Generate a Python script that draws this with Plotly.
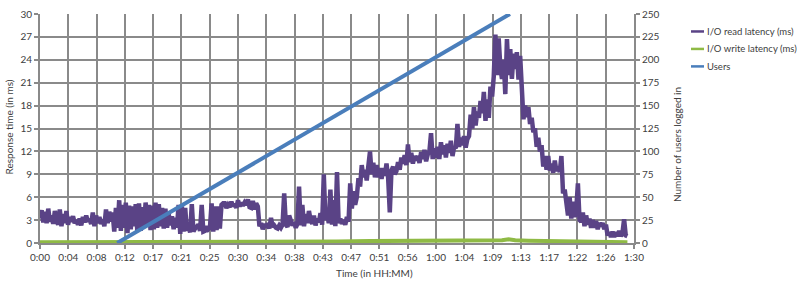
import plotly.graph_objects as go

# ---------------- data ----------------
tick_labels = ["0:00", "0:04", "0:08", "0:12", "0:17", "0:21", "0:25", "0:30", "0:34", "0:38", "0:43",
               "0:47", "0:51", "0:56", "1:00", "1:04", "1:09", "1:13", "1:17", "1:22", "1:26", "1:30"]
tick_minutes = [i * 90 / 21 for i in range(len(tick_labels))]

# I/O read latency (ms), sampled every 15 s from 0:00 to 1:29
read_latency = [
    3.2, 4.3, 2.7, 4.1,   2.6, 4.5, 2.8, 3.6,   2.5, 4.2, 3.0, 2.4,   4.4, 2.2, 3.8, 2.6,
    4.2, 2.4, 3.4, 2.8,   3.5, 2.6, 3.0, 2.4,   3.2, 2.3, 3.4, 2.7,   3.6, 2.8, 3.1, 2.5,
    4.0, 2.2, 3.6, 2.6,   3.4, 2.5, 3.1, 2.2,   4.4, 2.6, 4.1, 2.8,   4.0, 1.5, 4.6, 2.0,
    5.6, 1.6, 5.0, 2.0,   5.3, 1.3, 4.9, 1.8,   4.8, 2.2, 5.1, 1.5,   5.2, 1.6, 4.7, 2.2,
    5.3, 2.4, 5.0, 1.7,   4.9, 1.8, 5.3, 2.0,   5.1, 2.2, 4.6, 1.9,   4.5, 2.0, 3.8, 2.3,
    3.5, 1.8, 3.3, 2.0,   5.0, 1.2, 4.8, 1.5,   4.6, 1.6, 2.2, 1.4,   5.1, 1.5, 1.9, 2.3,
    2.4, 1.6, 5.0, 1.5,   1.6, 2.2, 1.8, 2.0,   5.2, 1.5, 4.8, 1.7,   4.8, 1.9, 5.0, 5.2,
    5.2, 4.6, 5.0, 4.7,   5.4, 4.8, 5.1, 4.6,   5.6, 4.8, 5.3, 4.9,   5.3, 5.0, 5.7, 4.7,
    4.6, 5.5, 4.4, 5.2,   4.8, 2.2, 2.6, 1.8,   2.5, 2.0, 2.6, 1.9,   3.3, 2.1, 2.3, 2.0,
    1.9, 2.3, 2.0, 2.4,   6.5, 2.4, 2.1, 3.6,   2.8, 2.3, 2.7, 2.0,   2.5, 7.4, 2.3, 5.0,
    2.2, 3.8, 2.6, 4.2,   3.0, 2.5, 3.6, 2.3,   3.2, 2.7, 3.9, 2.4,   9.0, 3.0, 4.0, 2.6,
    7.0, 2.4, 5.6, 2.2,   9.3, 2.6, 3.2, 2.5,   3.0, 2.4, 3.4, 2.8,   7.8, 4.5, 6.8, 5.0,
    6.0, 8.5, 7.4, 10.2,  8.6, 9.6, 8.2, 10.0,  12.0, 9.0, 10.5, 8.6, 10.2, 8.6, 9.8, 8.4,
    9.8, 8.8, 10.4, 8.5,  4.0, 9.5, 10.0, 9.0,  9.4, 10.6, 9.6, 11.2, 10.4, 11.5, 10.2, 12.9,
    10.6, 11.8, 10.4, 11.4, 10.8, 11.4, 10.5, 11.9, 11.0, 12.2, 10.7, 11.6, 12.0, 14.4, 11.0, 12.4,
    11.2, 12.6, 11.0, 13.2, 11.6, 12.8, 11.2, 13.0, 11.8, 13.4, 11.4, 12.6, 12.4, 15.6, 12.6, 13.8,
    12.8, 14.0, 12.5, 13.6, 14.0, 16.8, 15.0, 17.8, 15.4, 17.2, 16.4, 18.6, 17.0, 19.8, 16.0, 18.8,
    16.4, 20.5, 19.2, 21.8, 27.3, 22.0, 26.8, 23.0, 21.5, 24.0, 19.5, 26.7, 22.0, 25.4, 21.5, 24.8,
    22.8, 25.0, 21.4, 24.5, 18.5, 16.2, 18.0, 16.5, 17.8, 15.6, 16.4, 14.5, 15.0, 12.6, 13.8, 12.0,
    12.8, 10.0, 11.4, 9.6, 11.4, 9.5, 10.4, 9.2,  10.8, 9.4, 10.0, 9.3,  11.4, 6.5, 7.0, 5.0,
    3.6, 6.0, 3.2, 5.4,   3.4, 4.4, 7.8, 3.0,   2.8, 4.0, 2.2, 3.6,   2.4, 3.2, 2.0, 3.0,
    2.0, 2.9, 1.8, 2.6,   2.2, 2.6, 1.8, 2.4,   1.0, 1.4, 0.8, 1.5,   0.8, 1.4, 0.9, 1.6,
    0.9, 1.3, 3.1, 1.0,   0.9,
]
read_minutes = [i * 0.25 for i in range(len(read_latency))]

write_minutes = [0, 10, 20, 30, 40, 45, 50, 55, 60, 64, 68, 70, 71, 72, 74, 78, 82, 86, 89]
write_latency = [0.1, 0.1, 0.1, 0.12, 0.15, 0.2, 0.25, 0.25, 0.3, 0.3, 0.35, 0.35, 0.5, 0.35, 0.3, 0.25, 0.2, 0.12, 0.1]

users_minutes = [11.7, 71.2]
users_count = [0, 250]

# ---------------- style ----------------
FONT = "Lato"
GRID = "#8a8a8a"
TXT = "#404040"
C_READ = "#5a4386"
C_WRITE = "#8fba45"
C_USERS = "#4a7ebb"

fig = go.Figure()
fig.add_trace(go.Scatter(x=write_minutes, y=write_latency, mode="lines", name="I/O write latency (ms)",
                         line=dict(color=C_WRITE, width=4)))
fig.add_trace(go.Scatter(x=read_minutes, y=read_latency, mode="lines", name="I/O read latency (ms)",
                         line=dict(color=C_READ, width=4.5)))
fig.add_trace(go.Scatter(x=users_minutes, y=users_count, mode="lines", name="Users", yaxis="y2",
                         line=dict(color=C_USERS, width=4)))

axis_common = dict(zeroline=False, showline=True, linecolor=GRID, linewidth=2,
                   ticks="outside", ticklen=4, tickcolor=GRID, tickwidth=2,
                   tickfont=dict(family=FONT, size=10, color=TXT))

fig.update_layout(
    width=800, height=284,
    margin=dict(l=40, r=166, t=7, b=41),
    paper_bgcolor="white", plot_bgcolor="white",
    showlegend=False,
    font=dict(family=FONT, size=10, color=TXT),
    xaxis=dict(range=[0, 90], tickmode="array", tickvals=tick_minutes, ticktext=tick_labels,
               showgrid=True, gridcolor=GRID, gridwidth=2, **axis_common),
    yaxis=dict(range=[0, 30], tickmode="array", tickvals=list(range(0, 31, 3)),
               showgrid=True, gridcolor=GRID, gridwidth=2, **axis_common),
    yaxis2=dict(range=[0, 250], tickmode="array", tickvals=list(range(0, 251, 25)),
                overlaying="y", side="right", showgrid=False, **axis_common),
)

# axis titles
fig.add_annotation(text="Time (in HH:MM)", xref="paper", yref="paper", x=(374 - 40) / 594, y=-(274 - 243) / 236,
                   showarrow=False, font=dict(family=FONT, size=10, color=TXT), xanchor="center", yanchor="middle")
fig.add_annotation(text="Response time (in ms)", xref="paper", yref="paper", x=(9 - 40) / 594, y=(243 - 124) / 236,
                   showarrow=False, textangle=-90, font=dict(family=FONT, size=10, color=TXT),
                   xanchor="center", yanchor="middle")
fig.add_annotation(text="Number of users logged in", xref="paper", yref="paper", x=(677 - 40) / 594,
                   y=(243 - 142) / 236, showarrow=False, textangle=-90,
                   font=dict(family=FONT, size=10, color=TXT), xanchor="center", yanchor="middle")

# legend (drawn manually for Excel-like short samples)
legend_items = [("I/O read latency (ms)", C_READ, 25), ("I/O write latency (ms)", C_WRITE, 43), ("Users", C_USERS, 61)]
for label, col, py in legend_items:
    fig.add_shape(type="line", xref="paper", yref="paper",
                  x0=(691 - 40) / 594, x1=(704 - 40) / 594, y0=(243 - py) / 236, y1=(243 - py) / 236,
                  line=dict(color=col, width=2.5))
    fig.add_annotation(text=label, xref="paper", yref="paper", x=(705 - 40) / 594, y=(243 - py) / 236,
                       showarrow=False, xanchor="left", yanchor="middle",
                       font=dict(family=FONT, size=9.5, color=TXT))

fig.write_html("out.html")
